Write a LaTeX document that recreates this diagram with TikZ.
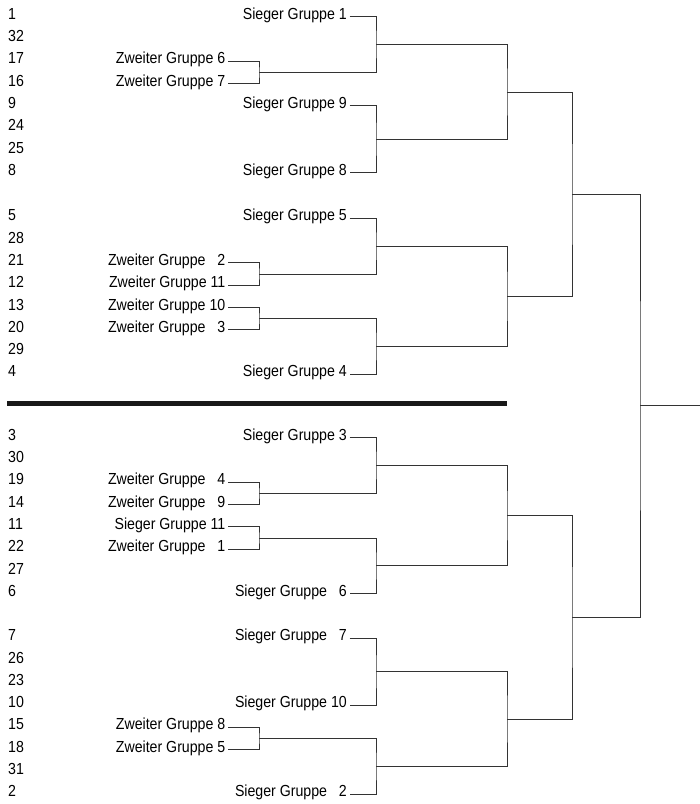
\documentclass[tikz,border=0pt]{standalone}
\usepackage{fontspec}
\setmainfont{Liberation Sans}[FakeStretch=0.885]

\begin{document}
\begin{tikzpicture}[x=1pt,y=-1pt,
  seed/.style={anchor=west,inner sep=0pt,font=\fontsize{16}{18}\selectfont,text=black,text height=0.72em,text depth=0.21em},
  team/.style={anchor=east,inner sep=2.5pt,font=\fontsize{16}{18}\selectfont,text=black,text height=0.72em,text depth=0.21em},
  tree/.style={line width=0.9pt,black!80}]
\useasboundingbox (0,0) rectangle (700,804);

% seeds
\node[seed] (n1) at (8,16.7) {1};
\node[seed] (n32) at (8,39.0) {32};
\node[seed] (n17) at (8,61.3) {17};
\node[seed] (n16) at (8,83.6) {16};
\node[seed] (n9) at (8,105.9) {9};
\node[seed] (n24) at (8,128.2) {24};
\node[seed] (n25) at (8,150.5) {25};
\node[seed] (n8) at (8,172.8) {8};
\node[seed] (n5) at (8,218.3) {5};
\node[seed] (n28) at (8,240.6) {28};
\node[seed] (n21) at (8,262.9) {21};
\node[seed] (n12) at (8,285.2) {12};
\node[seed] (n13) at (8,307.5) {13};
\node[seed] (n20) at (8,329.8) {20};
\node[seed] (n29) at (8,352.1) {29};
\node[seed] (n4) at (8,374.4) {4};
\node[seed] (n3) at (8,437.7) {3};
\node[seed] (n30) at (8,460.0) {30};
\node[seed] (n19) at (8,482.3) {19};
\node[seed] (n14) at (8,504.6) {14};
\node[seed] (n11) at (8,526.9) {11};
\node[seed] (n22) at (8,549.2) {22};
\node[seed] (n27) at (8,571.5) {27};
\node[seed] (n6) at (8,593.8) {6};
\node[seed] (n7) at (8,638.2) {7};
\node[seed] (n26) at (8,660.5) {26};
\node[seed] (n23) at (8,682.8) {23};
\node[seed] (n10) at (8,705.1) {10};
\node[seed] (n15) at (8,727.4) {15};
\node[seed] (n18) at (8,749.7) {18};
\node[seed] (n31) at (8,772.0) {31};
\node[seed] (n2) at (8,794.3) {2};

% teams
\node[team] (s1) at (349.5,16.7) {Sieger Gruppe 1};
\node[team] (z6) at (228,61.3) {Zweiter Gruppe 6};
\node[team] (z7) at (228,83.6) {Zweiter Gruppe 7};
\node[team] (s9) at (349.5,105.9) {Sieger Gruppe 9};
\node[team] (s8) at (349.5,172.8) {Sieger Gruppe 8};
\node[team] (s5) at (349.5,218.3) {Sieger Gruppe 5};
\node[team] (z2) at (228,262.9) {Zweiter Gruppe \phantom{1}2};
\node[team] (z11) at (228,285.2) {Zweiter Gruppe 11};
\node[team] (z10) at (228,307.5) {Zweiter Gruppe 10};
\node[team] (z3) at (228,329.8) {Zweiter Gruppe \phantom{1}3};
\node[team] (s4) at (349.5,374.4) {Sieger Gruppe 4};
\node[team] (s3) at (349.5,437.7) {Sieger Gruppe 3};
\node[team] (z4) at (228,482.3) {Zweiter Gruppe \phantom{1}4};
\node[team] (z9) at (228,504.6) {Zweiter Gruppe \phantom{1}9};
\node[team] (s11) at (228,526.9) {Sieger Gruppe 11};
\node[team] (z1) at (228,549.2) {Zweiter Gruppe \phantom{1}1};
\node[team] (s6) at (349.5,593.8) {Sieger Gruppe \phantom{1}6};
\node[team] (s7) at (349.5,638.2) {Sieger Gruppe \phantom{1}7};
\node[team] (s10) at (349.5,705.1) {Sieger Gruppe 10};
\node[team] (z8) at (228,727.4) {Zweiter Gruppe 8};
\node[team] (z5) at (228,749.7) {Zweiter Gruppe 5};
\node[team] (s2) at (349.5,794.3) {Sieger Gruppe \phantom{1}2};

% bracket joints
\coordinate (p1) at (259,72.45);
\coordinate (p2) at (259,274.05);
\coordinate (p3) at (259,318.65);
\coordinate (p4) at (259,493.45);
\coordinate (p5) at (259,538.05);
\coordinate (p6) at (259,738.55);
\coordinate (a1) at (376,44.6);
\coordinate (a2) at (376,139.35);
\coordinate (a3) at (376,246.2);
\coordinate (a4) at (376,346.5);
\coordinate (a5) at (376,465.6);
\coordinate (a6) at (376,565.9);
\coordinate (a7) at (376,671.65);
\coordinate (a8) at (376,766.4);
\coordinate (b1) at (507,92.0);
\coordinate (b2) at (507,296.35);
\coordinate (b3) at (507,515.75);
\coordinate (b4) at (507,719.0);
\coordinate (c1) at (572,194.2);
\coordinate (c2) at (572,617.4);
\coordinate (d) at (640,405.8);
\coordinate (fin) at (700,405.8);
\coordinate (cutL) at (7,403);
\coordinate (cutR) at (507,403);

\draw[tree] (z6.east) -| (p1) |- (z7.east);
\draw[tree] (z2.east) -| (p2) |- (z11.east);
\draw[tree] (z10.east) -| (p3) |- (z3.east);
\draw[tree] (z4.east) -| (p4) |- (z9.east);
\draw[tree] (s11.east) -| (p5) |- (z1.east);
\draw[tree] (z8.east) -| (p6) |- (z5.east);

\draw[tree] (s1.east) -| (a1) |- (p1);
\draw[tree] (s9.east) -| (a2) |- (s8.east);
\draw[tree] (s5.east) -| (a3) |- (p2);
\draw[tree] (p3) -| (a4) |- (s4.east);
\draw[tree] (s3.east) -| (a5) |- (p4);
\draw[tree] (p5) -| (a6) |- (s6.east);
\draw[tree] (s7.east) -| (a7) |- (s10.east);
\draw[tree] (p6) -| (a8) |- (s2.east);

\draw[tree] (a1) -| (b1) |- (a2);
\draw[tree] (a3) -| (b2) |- (a4);
\draw[tree] (a5) -| (b3) |- (a6);
\draw[tree] (a7) -| (b4) |- (a8);

\draw[tree] (b1) -| (c1) |- (b2);
\draw[tree] (b3) -| (c2) |- (b4);

\draw[tree] (c1) -| (d) |- (c2);
\draw[tree] (d) -- (fin);

\draw[line width=5pt,black!90] (cutL) -- (cutR);
\end{tikzpicture}
\end{document}
